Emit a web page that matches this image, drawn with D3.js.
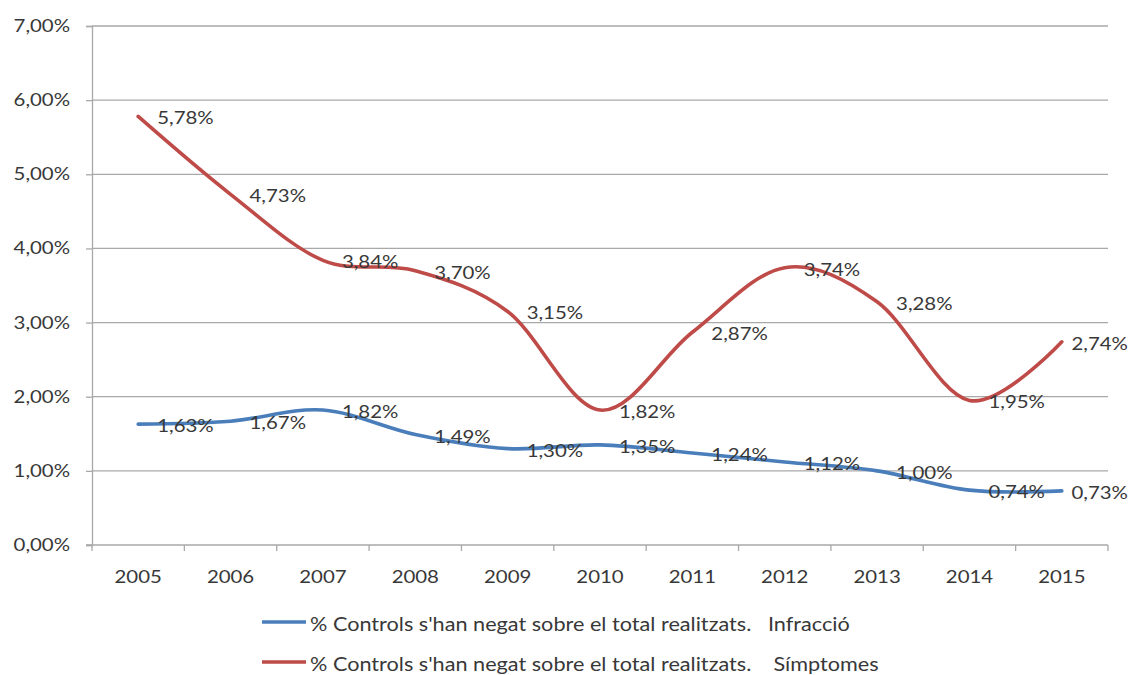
<!DOCTYPE html>
<html>
<head>
<meta charset="utf-8">
<script src="https://cdn.jsdelivr.net/npm/d3@7/dist/d3.min.js"></script>
<style>
  html, body { margin: 0; padding: 0; background: #ffffff; }
  svg { display: block; }
  text { font-family: Lato, "Open Sans", sans-serif; fill: #383838; }
</style>
</head>
<body>
<svg id="chart" width="1131" height="675"></svg>
<script>
// Years on the category axis
const years = ["2005", "2006", "2007", "2008", "2009", "2010", "2011", "2012", "2013", "2014", "2015"];

// % of controls refused over total performed, by reason
const infraccio = [1.63, 1.67, 1.82, 1.49, 1.30, 1.35, 1.24, 1.12, 1.00, 0.74, 0.73];
const simptomes = [5.78, 4.73, 3.84, 3.70, 3.15, 1.82, 2.87, 3.74, 3.28, 1.95, 2.74];

// Y axis ticks (percent)
const yTicks = [0, 1, 2, 3, 4, 5, 6, 7];

// Series names shown in the legend
const seriesNames = [
  "% Controls s'han negat sobre el total realitzats.   Infracció",
  "% Controls s'han negat sobre el total realitzats.    Símptomes"
];
const seriesColors = ["#4a7ebb", "#be4b48"];

const svg = d3.select("#chart");
const W = 1131, H = 675;
const plot = { left: 92, right: 1108, top: 26, bottom: 545 };
const textScale = 1.2;   // horizontal stretch applied to axis and data labels
const fontSize = 17;
const legendFont = 19;
const legendScale = 1.14;

const x = d3.scaleBand().domain(years).range([plot.left, plot.right]);
const y = d3.scaleLinear().domain([0, 7]).range([plot.bottom, plot.top]);
const fmt = v => d3.format(".2f")(v).replace(".", ",") + "%";

// Horizontal gridlines
svg.append("g")
  .selectAll("line")
  .data(yTicks.filter(t => t > 0))
  .join("line")
  .attr("x1", plot.left).attr("x2", plot.right)
  .attr("y1", d => y(d)).attr("y2", d => y(d))
  .attr("stroke", "#a9a9a9").attr("stroke-width", 1.3);

// Y axis
const yAxis = svg.append("g")
  .attr("transform", `translate(${plot.left},0)`)
  .call(d3.axisLeft(y).tickValues(yTicks).tickSize(6).tickPadding(0).tickFormat(() => ""));
yAxis.select(".domain").attr("stroke", "#a9a9a9").attr("stroke-width", 1.3);
yAxis.selectAll(".tick line").attr("stroke", "#a9a9a9").attr("stroke-width", 1.3);

svg.append("g")
  .selectAll("text")
  .data(yTicks)
  .join("text")
  .attr("transform", d => `translate(70,${y(d) + 6}) scale(${textScale},1)`)
  .attr("text-anchor", "end")
  .attr("font-size", fontSize)
  .text(d => fmt(d));

// X axis (ticks between categories)
const xAxisG = svg.append("g").attr("transform", `translate(0,${plot.bottom})`);
xAxisG.append("line")
  .attr("x1", plot.left - 6).attr("x2", plot.right)
  .attr("stroke", "#a9a9a9").attr("stroke-width", 1.3);
const boundaries = years.map(d => x(d)).concat([x(years[years.length - 1]) + x.bandwidth()]);
xAxisG.selectAll("line.tick")
  .data(boundaries)
  .join("line")
  .attr("class", "tick")
  .attr("x1", d => d).attr("x2", d => d)
  .attr("y1", 0).attr("y2", 6)
  .attr("stroke", "#a9a9a9").attr("stroke-width", 1.3);
svg.append("g")
  .selectAll("text")
  .data(years)
  .join("text")
  .attr("transform", d => `translate(${x(d) + x.bandwidth() / 2},583) scale(${textScale},1)`)
  .attr("text-anchor", "middle")
  .attr("font-size", fontSize)
  .text(d => d);

// Smoothed series lines
const line = d3.line()
  .x((d, i) => x(years[i]) + x.bandwidth() / 2)
  .y(d => y(d))
  .curve(d3.curveCatmullRom.alpha(0));

const series = [infraccio, simptomes];
series.forEach((vals, s) => {
  svg.append("path")
    .datum(vals)
    .attr("d", line)
    .attr("fill", "none")
    .attr("stroke", seriesColors[s])
    .attr("stroke-width", 3.6)
    .attr("stroke-linecap", "round")
    .attr("stroke-linejoin", "round");
});

// Data labels, placed to the right of each point and kept inside the chart
const labelsG = svg.append("g");
series.forEach((vals, s) => {
  vals.forEach((v, i) => {
    const px = x(years[i]) + x.bandwidth() / 2;
    const py = y(v);
    const t = labelsG.append("text")
      .attr("font-size", fontSize)
      .attr("fill", "#2e2e2e")
      .text(fmt(v));
    const w = t.node().getComputedTextLength() * textScale;
    let lx = px + 19;
    if (lx + w > W - 3) lx = W - 3 - w;
    t.attr("transform", `translate(${lx},${py + 8}) scale(${textScale},1)`);
  });
});

// Legend
const legend = svg.append("g");
seriesNames.forEach((name, s) => {
  const ly = 622 + s * 40;
  legend.append("line")
    .attr("x1", 262).attr("x2", 306)
    .attr("y1", ly).attr("y2", ly)
    .attr("stroke", seriesColors[s])
    .attr("stroke-width", 3.6);
  legend.append("text")
    .attr("transform", `translate(310,${ly + 9}) scale(${legendScale},1)`)
    .attr("font-size", legendFont)
    .attr("xml:space", "preserve")
    .style("white-space", "pre")
    .text(name);
});
</script>
</body>
</html>
